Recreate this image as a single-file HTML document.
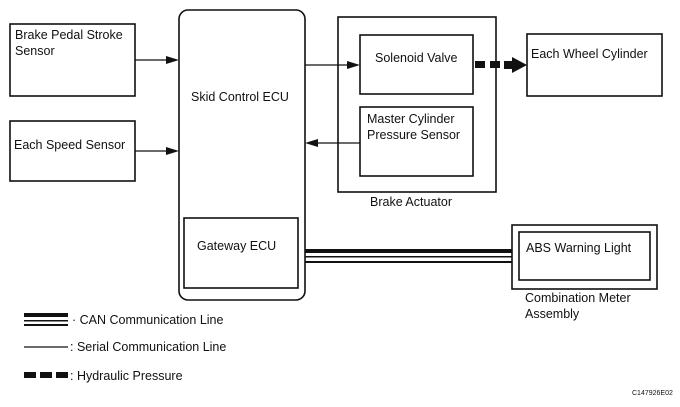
<!DOCTYPE html><html><head><style>body{margin:0;background:#fff}svg text{font-family:"Liberation Sans",Arial,sans-serif;fill:#111}</style></head><body>
<svg width="680" height="402" viewBox="0 0 680 402" xmlns="http://www.w3.org/2000/svg">
<g fill="none" stroke="#111" stroke-width="1.6">
<rect x="10" y="24" width="125" height="72"/>
<rect x="10" y="121" width="125" height="60"/>
<rect x="179" y="10" width="126" height="290" rx="9"/>
<rect x="184" y="218" width="114" height="70"/>
<rect x="338" y="17" width="158" height="175"/>
<rect x="360" y="35" width="113" height="59"/>
<rect x="360" y="107" width="113" height="69"/>
<rect x="527" y="34" width="135" height="62"/>
<rect x="512" y="225" width="145" height="64"/>
<rect x="519" y="232" width="131" height="48"/>
</g>
<g stroke="#111" stroke-width="1.2">
<line x1="135" y1="60" x2="170" y2="60"/>
<line x1="135" y1="151" x2="170" y2="151"/>
<line x1="305" y1="65" x2="351" y2="65"/>
<line x1="360" y1="143" x2="314" y2="143"/>
<line x1="24" y1="347" x2="68" y2="347"/>
</g>
<g fill="#111">
<polygon points="179,60 166,56 166,64"/>
<polygon points="179,151 166,147 166,155"/>
<polygon points="360,65 347,61 347,69"/>
<polygon points="305,143 318,139 318,147"/>
<rect x="475" y="61" width="10" height="7"/><rect x="490" y="61" width="10" height="7"/>
<polygon points="504,61 512,61 512,57 527,65 512,73 512,69 504,69"/>
<rect x="305" y="249" width="207" height="4"/>
<rect x="305" y="256" width="207" height="1.5"/>
<rect x="305" y="261" width="207" height="2"/>
<rect x="24" y="313" width="44" height="4"/><rect x="24" y="320" width="44" height="1.5"/><rect x="24" y="324" width="44" height="2"/>
<rect x="24" y="372" width="12" height="6"/><rect x="40" y="372" width="12" height="6"/><rect x="56" y="372" width="12" height="6"/>
</g>
<g font-size="12.5">
<text x="15" y="39">Brake Pedal Stroke</text>
<text x="15" y="55">Sensor</text>
<text x="14" y="149">Each Speed Sensor</text>
<text x="191" y="101">Skid Control ECU</text>
<text x="197" y="250">Gateway ECU</text>
<text x="375" y="62">Solenoid Valve</text>
<text x="367" y="123">Master Cylinder</text>
<text x="367" y="139">Pressure Sensor</text>
<text x="531" y="58">Each Wheel Cylinder</text>
<text x="370" y="206">Brake Actuator</text>
<text x="526" y="252">ABS Warning Light</text>
<text x="525" y="302">Combination Meter</text>
<text x="525" y="318">Assembly</text>
<text x="72" y="324">· CAN Communication Line</text>
<text x="70" y="351">: Serial Communication Line</text>
<text x="70" y="380">: Hydraulic Pressure</text>
</g>
<text x="632" y="395" font-size="7">C147926E02</text>
</svg></body></html>
